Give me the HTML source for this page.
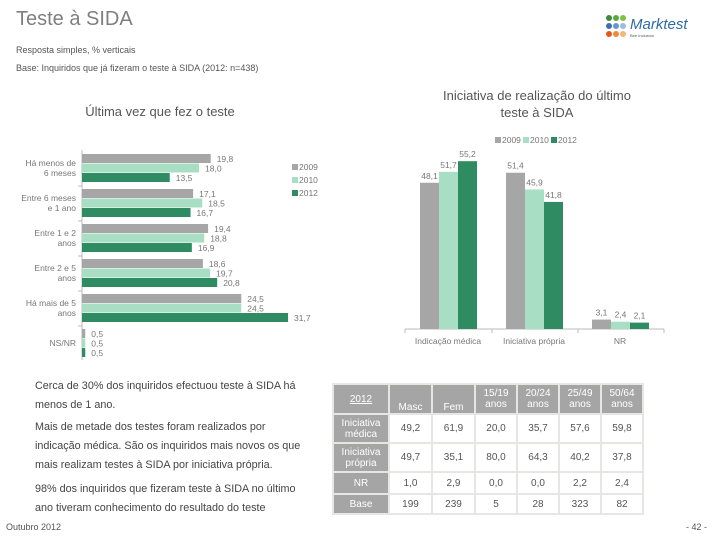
<!DOCTYPE html>
<html><head><meta charset="utf-8"><style>
body{margin:0;width:720px;height:540px;background:#fff;font-family:"Liberation Sans",sans-serif;position:relative;overflow:hidden;color:#444}
.a{position:absolute}
table{border-collapse:collapse;position:absolute;left:332px;top:383px;font-size:10px}
td{border:2px solid #e6e6e2;text-align:center;padding:0;color:#555}
td.h{background:#a5a5a5;color:#fff}
</style></head><body>
<div class="a" style="left:16px;top:8px;font-size:20px;color:#7f7f7f">Teste à SIDA</div>
<div class="a" style="left:16px;top:45px;font-size:9px;color:#555">Resposta simples, % verticais</div>
<div class="a" style="left:16px;top:63px;font-size:9px;color:#555">Base: Inquiridos que já fizeram o teste à SIDA (2012: n=438)</div>
<div class="a" style="left:605px;top:14px;width:100px;height:26px">
<svg width="100" height="26"><g>
<circle cx="4" cy="4" r="3" fill="#3d8a3a"/><circle cx="11" cy="4" r="3" fill="#5aa83c"/><circle cx="18" cy="4" r="3" fill="#7cc142"/>
<circle cx="4" cy="12" r="3" fill="#3e6fb0"/><circle cx="11" cy="12" r="3" fill="#6a96cf"/><circle cx="18" cy="12" r="3" fill="#9bbbe0"/>
<circle cx="4" cy="20" r="3" fill="#e2581f"/><circle cx="11" cy="20" r="3" fill="#ef8a3c"/><circle cx="18" cy="20" r="3" fill="#f4b77a"/></g>
<text x="25" y="15" font-size="15" font-style="italic" fill="#2e6aa8" font-family="Liberation Sans">Marktest</text>
<text x="25" y="23" font-size="4" fill="#555">Bee Inclusion</text></svg></div>

<div class="a" style="left:60px;top:104px;width:200px;text-align:center;font-size:13px;color:#555">Última vez que fez o teste</div>
<div class="a" style="left:428px;top:87px;width:218px;text-align:center;font-size:13px;line-height:17px;color:#555">Iniciativa de realização do último teste à SIDA</div>

<svg class="a" style="left:0;top:0" width="720" height="540" id="charts"></svg>

<div class="a" style="left:35px;top:377px;width:278px;font-size:10.8px;line-height:19px;color:#444">
<p style="margin:0 0 3px">Cerca de 30% dos inquiridos efectuou teste à SIDA há menos de 1 ano.</p>
<p style="margin:0 0 5px">Mais de metade dos testes foram realizados por indicação médica. São os inquiridos mais novos os que mais realizam testes à SIDA por iniciativa própria.</p>
<p style="margin:0">98% dos inquiridos que fizeram teste à SIDA no último ano tiveram conhecimento do resultado do teste</p></div>
<div class="a" style="left:6px;top:522px;font-size:9px;color:#555">Outubro 2012</div>
<div class="a" style="left:686px;top:522px;font-size:9px;color:#555">- 42 -</div>

<table>
<tr style="height:30px"><td class="h" style="width:54px;text-decoration:underline">2012</td><td class="h" style="width:41px;vertical-align:bottom">Masc</td><td class="h" style="width:41px;vertical-align:bottom">Fem</td><td class="h" style="width:40px">15/19<br>anos</td><td class="h" style="width:40px">20/24<br>anos</td><td class="h" style="width:40px">25/49<br>anos</td><td class="h" style="width:40px">50/64<br>anos</td></tr>
<tr style="height:29px"><td class="h">Iniciativa<br>médica</td><td>49,2</td><td>61,9</td><td>20,0</td><td>35,7</td><td>57,6</td><td>59,8</td></tr>
<tr style="height:29px"><td class="h">Iniciativa<br>própria</td><td>49,7</td><td>35,1</td><td>80,0</td><td>64,3</td><td>40,2</td><td>37,8</td></tr>
<tr style="height:22px"><td class="h">NR</td><td>1,0</td><td>2,9</td><td>0,0</td><td>0,0</td><td>2,2</td><td>2,4</td></tr>
<tr style="height:20px"><td class="h">Base</td><td>199</td><td>239</td><td>5</td><td>28</td><td>323</td><td>82</td></tr>
</table>

<script>
const years=["2009","2010","2012"];
const colors=["#a6a6a6","#a8dfc4","#2e8b62"];
const leftCats=["Há menos de\n6 meses","Entre 6 meses\ne 1 ano","Entre 1 e 2\nanos","Entre 2 e 5\nanos","Há mais de 5\nanos","NS/NR"];
const left2009=[19.8,17.1,19.4,18.6,24.5,0.5];
const left2010=[18.0,18.5,18.8,19.7,24.5,0.5];
const left2012=[13.5,16.7,16.9,20.8,31.7,0.5];
const rightCats=["Indicação médica","Iniciativa própria","NR"];
const right2009=[48.1,51.4,3.1];
const right2010=[51.7,45.9,2.4];
const right2012=[55.2,41.8,2.1];

const svg=document.getElementById('charts');
const NS='http://www.w3.org/2000/svg';
function mk(t,a,txt){const e=document.createElementNS(NS,t);for(const k in a)e.setAttribute(k,a[k]);if(txt!=null)e.textContent=txt;svg.appendChild(e);return e;}
const fmt=v=>v.toFixed(1).replace('.',',');

const lx0=82,lsc=6.5,ly0=154,pitch=35,bh=9.5;
const xL=v=>lx0+v*lsc;
const lser=[left2009,left2010,left2012];
let ax=mk('line',{x1:lx0,y1:150,x2:lx0,y2:360,stroke:'#bbb'});

leftCats.forEach((c,i)=>{
  const gy=ly0+i*pitch;
  lser.forEach((s,j)=>{
    const r=mk('rect',{x:lx0,y:gy+j*bh,width:xL(s[i])-lx0,height:bh-0.5,fill:colors[j]});
    
    
    const t=mk('text',{x:xL(s[i])+6,y:gy+j*bh+8,'font-size':8.5,fill:'#777'},fmt(s[i]));
    
    
  });
  const lines=c.split('\n');
  lines.forEach((l,k)=>{
    const t=mk('text',{x:76,y:gy+14+(k-(lines.length-1)/2)*10+3,'font-size':8.5,fill:'#777','text-anchor':'end'},l);
    
    
  });
  if(i>0){mk('line',{x1:lx0-4,y1:gy-3,x2:lx0,y2:gy-3,stroke:'#bbb'});}
});
years.forEach((y,j)=>{
  const r=mk('rect',{x:292,y:164+j*13,width:6,height:6,fill:colors[j]});
  
  const t=mk('text',{x:299,y:170+j*13,'font-size':8.5,fill:'#777'},y);
  
});

const base=329,rsc=3.04,bw=19,gx0=420,gp=86;
const yR=v=>base-v*rsc;
const rser=[right2009,right2010,right2012];
let bl=mk('line',{x1:405,y1:base,x2:664,y2:base,stroke:'#bbb'});

[405,492,578,664].forEach(x=>mk('line',{x1:x,y1:base,x2:x,y2:base+4,stroke:'#bbb'}));
rightCats.forEach((c,i)=>{
  rser.forEach((s,j)=>{
    const x=gx0+i*gp+j*bw;
    const r=mk('rect',{x:x,y:yR(s[i]),width:bw,height:base-yR(s[i]),fill:colors[j]});
    
    
    const t=mk('text',{x:x+bw/2,y:yR(s[i])-4,'font-size':8.5,fill:'#777','text-anchor':'middle'},fmt(s[i]));
    
    
  });
  const t=mk('text',{x:gx0+i*gp+28,y:344,'font-size':8.5,fill:'#777','text-anchor':'middle'},c);
  
  
});
years.forEach((y,j)=>{
  const x=495+j*28;
  const r=mk('rect',{x:x,y:137,width:6,height:6,fill:colors[j]});
  
  const t=mk('text',{x:x+7,y:143,'font-size':8.5,fill:'#777'},y);
  
});
</script>
</body></html>
